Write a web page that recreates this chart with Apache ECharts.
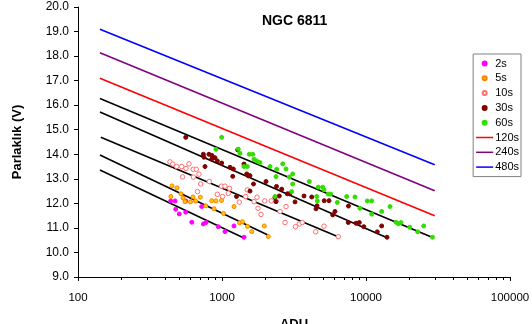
<!DOCTYPE html>
<html><head><meta charset="utf-8">
<script src="https://cdn.jsdelivr.net/npm/echarts@6/dist/echarts.min.js"></script>
<style>html,body{margin:0;padding:0;background:#fff}#c{width:532px;height:324px}</style>
</head><body><div id="c"></div><script>
// ---- data: [ADU, V magnitude] ----
const s2 = [[440,12.10],[472,12.10],[477,11.76],[505,11.57],[560,12.10],[560,11.64],[617,11.23],[723,11.87],[742,11.16],[774,11.22],[942,11.05],[1049,10.85],[1211,11.08],[1422,10.62]];
const s5 = [[450,12.71],[487,12.63],[442,12.28],[519,12.39],[536,12.22],[629,12.26],[553,12.07],[604,12.06],[655,12.10],[707,12.25],[771,11.90],[848,12.11],[908,12.10],[992,12.12],[880,11.78],[1024,11.59],[1212,11.87],[1323,11.21],[1388,11.25],[1503,11.06],[1608,10.85],[1967,11.08],[2097,10.65]];
const s10 = [[435,13.69],[455,13.60],[485,13.50],[525,13.50],[562,13.42],[590,13.61],[632,13.39],[663,13.39],[692,13.19],[532,13.08],[632,13.07],[711,12.79],[816,12.89],[676,12.48],[992,12.70],[1049,12.70],[1128,12.61],[928,12.37],[1106,12.41],[1008,12.28],[1461,12.28],[1319,12.05],[1668,12.07],[1750,12.25],[1979,12.10],[2196,12.10],[2371,12.10],[1778,11.80],[1866,11.55],[2528,11.67],[2783,11.87],[2738,11.22],[3239,11.05],[3443,11.16],[3611,11.22],[4474,10.84],[5109,11.07],[6422,10.64],[1499,12.55]];
const s30 = [[560,14.69],[742,14.00],[812,14.00],[852,13.95],[894,13.86],[928,13.73],[995,13.64],[848,13.80],[750,13.88],[762,13.50],[1136,13.47],[1198,13.40],[1285,14.18],[1421,13.60],[1523,13.12],[1187,13.10],[1485,13.20],[1565,13.13],[1655,12.79],[2021,12.89],[2390,12.69],[2598,12.58],[1565,12.50],[1261,12.28],[2500,12.30],[2334,12.24],[2371,12.07],[2842,12.39],[2943,12.39],[3214,12.06],[3710,12.30],[4197,12.26],[4568,11.90],[4496,11.78],[5126,12.11],[5535,12.11],[6090,11.67],[5871,11.53],[7557,11.89],[7533,11.22],[8520,11.19],[8985,11.22],[9654,11.05],[11980,10.84],[12850,11.08],[13990,10.62]];
const s60 = [[995,14.69],[908,14.20],[1298,14.21],[1334,14.04],[1547,14.00],[1634,14.00],[1668,13.80],[1742,13.73],[1836,13.66],[1421,13.50],[1499,13.50],[2154,13.50],[2398,13.39],[2640,13.61],[2783,13.40],[3097,13.20],[2371,13.09],[2934,13.07],[3097,12.79],[3048,12.48],[2334,12.28],[4039,12.89],[4665,12.66],[5005,12.66],[5109,12.55],[5473,12.38],[5687,12.38],[6322,12.04],[7345,12.28],[8384,12.26],[4546,12.28],[4590,12.10],[9085,11.80],[10210,12.10],[10950,12.10],[10950,11.56],[12850,11.67],[14680,11.87],[16160,11.23],[16760,11.17],[17500,11.22],[20120,11.03],[22860,10.84],[25160,11.08],[28960,10.62]];
const line120 = [[142,17.10],[30000,11.50]];
const line240 = [[142,18.14],[30000,12.51]];
const line480 = [[142,19.09],[30000,13.57]];
const fit60 = [[142,16.27],[29000,10.61]];
const fit30 = [[142,15.72],[14000,10.60]];
const fit10 = [[144,14.69],[6400,10.64]];
const fit5 = [[142,13.97],[2100,10.70]];
const fit2 = [[142,13.36],[1430,10.58]];
const scatterNames = ['2s','5s','10s','30s','60s'];
const lineNames = ['120s','240s','480s'];
const minorTickValues = [200,300,400,500,600,700,800,900,2000,3000,4000,5000,6000,7000,8000,9000,20000,30000,40000,50000,60000,70000,80000,90000];
const yMin = 9, yMax = 20;

const FONT = '"Liberation Sans", Arial, sans-serif';
const chart = echarts.init(document.getElementById('c'), null, {renderer:'canvas'});

function lineS(name, data, color){
  return {type:'line', name, data, symbol:'none', silent:true, z:2,
    lineStyle:{color, width:1.6}, itemStyle:{color}, animation:false};
}
function scat(name, data, fill, border, size){
  return {type:'scatter', name, data, symbol:'circle', symbolSize:size, z:3,
    itemStyle:{color:fill, borderColor:border, borderWidth:1, opacity:1}, animation:false};
}

const legendData = scatterNames.map(n=>({name:n}))
  .concat(lineNames.map(n=>({name:n, icon:'path://M0,0L34,0L34,3L0,3Z'})));

chart.setOption({
  backgroundColor:'#fff',
  animation:false,
  textStyle:{fontFamily:FONT},
  title:{text:'NGC 6811', left:262, top:14, padding:0,
    textStyle:{fontFamily:FONT, fontSize:14, fontWeight:'bold', color:'#000'}},
  legend:{data:legendData, orient:'vertical', right:11, top:54,
    padding:[4,2,4,3], itemWidth:17, itemHeight:4, itemGap:3.8,
    borderColor:'#808080', borderWidth:1, backgroundColor:'#fff',
    textStyle:{fontFamily:FONT, fontSize:11, color:'#000', lineHeight:11, padding:[0,0,0,-3]}},
  grid:{left:78, right:22, top:7, bottom:47, containLabel:false, outerBoundsMode:'none'},
  xAxis:{type:'log', logBase:10, min:100, max:100000,
    name:'ADU', nameLocation:'middle', nameGap:41,
    nameTextStyle:{fontFamily:FONT, fontSize:13, fontWeight:'bold', color:'#000'},
    axisLine:{show:true, lineStyle:{color:'#000', width:1}},
    axisTick:{show:true, inside:false, length:4, lineStyle:{color:'#000'}},
    minorTick:{show:false},
    splitLine:{show:false},
    axisLabel:{fontFamily:FONT, fontSize:11.5, color:'#000', margin:15,
      formatter:v=>String(Math.round(v))}},
  yAxis:{type:'value', min:yMin, max:yMax, interval:1,
    name:'Parlaklık (V)', nameLocation:'middle', nameGap:54, nameRotate:90,
    nameTextStyle:{fontFamily:FONT, fontSize:13, fontWeight:'bold', color:'#000'},
    axisLine:{show:true, lineStyle:{color:'#000', width:1}},
    axisTick:{show:true, inside:false, length:4, lineStyle:{color:'#000'}},
    splitLine:{show:false},
    axisLabel:{fontFamily:FONT, fontSize:12, color:'#000', margin:9,
      formatter:v=>v.toFixed(1)}},
  series:[
    lineS('fit60', fit60, '#000'),
    lineS('fit30', fit30, '#000'),
    lineS('fit10', fit10, '#000'),
    lineS('fit5', fit5, '#000'),
    lineS('fit2', fit2, '#000'),
    scat('2s', s2, '#ff00ff', '#ff00ff', 4),
    scat('5s', s5, '#ffcc00', '#ff7f00', 4),
    scat('10s', s10, '#ffffff', '#ff6f6f', 4.5),
    scat('30s', s30, '#800000', '#800000', 4),
    scat('60s', s60, '#33dd00', '#33dd00', 4),
    lineS('120s', line120, '#ff0000'),
    lineS('240s', line240, '#800080'),
    lineS('480s', line480, '#0000ff'),
    {type:'custom', name:'minorTicks', silent:true, clip:false, z:4,
      data:minorTickValues.map(v=>[v, yMin]),
      renderItem:(params, api)=>{
        const p = api.coord([api.value(0), api.value(1)]);
        const x = Math.round(p[0]) + 0.5;
        return {type:'line', shape:{x1:x, y1:p[1], x2:x, y2:p[1]+3},
          style:{stroke:'#000', lineWidth:1}};
      }}
  ]
});
</script></body></html>
